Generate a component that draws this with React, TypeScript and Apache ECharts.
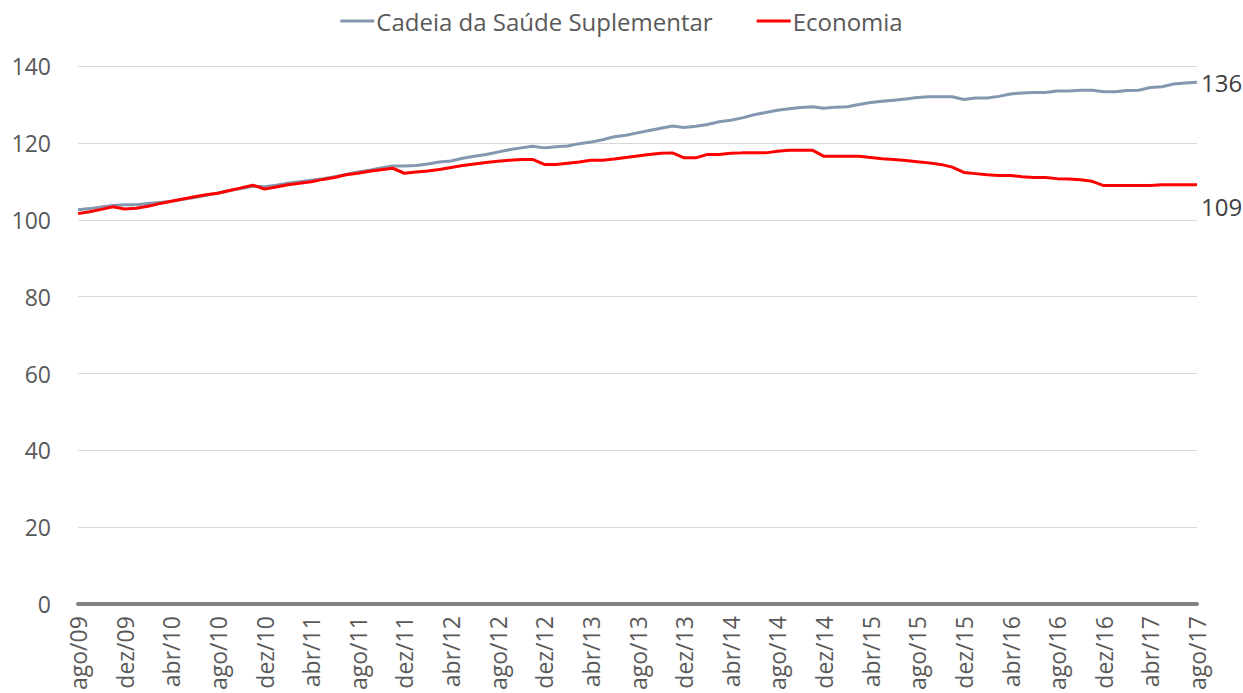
import React, { useEffect, useRef } from "react";
import * as echarts from "echarts";

const MONTHS = ["jan", "fev", "mar", "abr", "mai", "jun", "jul", "ago", "set", "out", "nov", "dez"];
// ago/09 .. ago/17 (97 months)
const categories: string[] = [];
for (let k = 0; k < 97; k++) {
  const m = (7 + k) % 12;
  const y = 9 + Math.floor((7 + k) / 12);
  categories.push(`${MONTHS[m]}/${String(y).padStart(2, "0")}`);
}

const seriesNames = ["Cadeia da Saúde Suplementar", "Economia"];

const cadeia = [
  102.6, 102.9, 103.3, 103.7, 103.9, 103.9, 104.2, 104.5, 104.8, 105.3, 105.8, 106.4,
  107.0, 107.6, 108.1, 108.7, 108.6, 109.0, 109.5, 109.9, 110.3, 110.7, 111.2, 111.8,
  112.4, 112.9, 113.5, 114.0, 114.0, 114.1, 114.5, 115.0, 115.3, 116.0, 116.5, 117.0,
  117.6, 118.2, 118.7, 119.1, 118.7, 119.0, 119.2, 119.8, 120.2, 120.8, 121.6, 122.0,
  122.6, 123.2, 123.8, 124.4, 124.0, 124.3, 124.8, 125.5, 125.9, 126.5, 127.3, 127.9,
  128.5, 128.9, 129.2, 129.4, 129.0, 129.3, 129.4, 130.0, 130.5, 130.8, 131.1, 131.4,
  131.8, 132.0, 132.0, 132.0, 131.3, 131.7, 131.7, 132.1, 132.7, 133.0, 133.1, 133.1,
  133.5, 133.5, 133.7, 133.7, 133.3, 133.3, 133.6, 133.7, 134.4, 134.6, 135.3, 135.6,
  135.8,
];

const economia = [
  101.6, 102.1, 102.7, 103.4, 102.8, 103.0, 103.5, 104.2, 104.8, 105.4, 106.0, 106.5,
  106.9, 107.6, 108.3, 109.0, 108.0, 108.5, 109.1, 109.5, 109.9, 110.5, 111.0, 111.7,
  112.1, 112.6, 113.0, 113.4, 112.1, 112.4, 112.7, 113.1, 113.6, 114.1, 114.5, 114.9,
  115.2, 115.5, 115.7, 115.7, 114.4, 114.4, 114.7, 115.0, 115.5, 115.5, 115.8, 116.2,
  116.6, 117.0, 117.3, 117.4, 116.1, 116.1, 117.0, 117.0, 117.3, 117.4, 117.4, 117.4,
  117.8, 118.1, 118.1, 118.1, 116.5, 116.5, 116.5, 116.5, 116.2, 115.9, 115.7, 115.4,
  115.1, 114.8, 114.4, 113.7, 112.3, 112.0, 111.7, 111.5, 111.5, 111.2, 111.0, 111.0,
  110.7, 110.6, 110.4, 110.0, 108.9, 108.9, 108.9, 108.9, 108.9, 109.1, 109.1, 109.1,
  109.1,
];

const FONT = "'Open Sans', sans-serif";

export default function App() {
  const ref = useRef<HTMLDivElement>(null);
  useEffect(() => {
    document.body.style.margin = "0";
    const chart = echarts.init(ref.current!, null, { renderer: "svg" });
    chart.setOption({
      animation: false,
      textStyle: { fontFamily: FONT },
      legend: {
        top: 4,
        left: "center",
        itemWidth: 34,
        itemHeight: 3,
        itemGap: 44,
        icon: "rect",
        textStyle: {
          fontSize: 24,
          color: "#595959",
          fontFamily: FONT,
          padding: [0, 0, 0, -3],
        },
        data: seriesNames,
      },
      grid: { left: 78, right: 46, top: 66, bottom: 88 },
      xAxis: {
        type: "category",
        data: categories,
        boundaryGap: false,
        axisLine: { lineStyle: { color: "#808080", width: 4 } },
        axisTick: { show: false },
        axisLabel: {
          interval: 3,
          rotate: 90,
          margin: 12,
          fontSize: 23,
          color: "#595959",
          fontFamily: FONT,
        },
        splitLine: { show: false },
      },
      yAxis: {
        type: "value",
        min: 0,
        max: 140,
        interval: 20,
        axisLine: { show: false },
        axisTick: { show: false },
        axisLabel: { fontSize: 23, color: "#595959", margin: 27, fontFamily: FONT },
        splitLine: { lineStyle: { color: "#d9d9d9", width: 1 } },
      },
      series: [
        {
          name: seriesNames[0],
          type: "line",
          data: cadeia,
          showSymbol: false,
          symbol: "none",
          lineStyle: { color: "#8497b0", width: 3 },
          itemStyle: { color: "#8497b0" },
          endLabel: {
            show: true,
            formatter: (p: any) => String(Math.round(p.value)),
            fontSize: 24,
            color: "#404040",
            distance: 4,
            fontFamily: FONT,
          },
          z: 2,
        },
        {
          name: seriesNames[1],
          type: "line",
          data: economia,
          showSymbol: false,
          symbol: "none",
          lineStyle: { color: "#ff0000", width: 3 },
          itemStyle: { color: "#ff0000" },
          endLabel: {
            show: true,
            formatter: (p: any) => String(Math.round(p.value)),
            fontSize: 24,
            color: "#404040",
            distance: 4,
            offset: [0, 22],
            fontFamily: FONT,
          },
          z: 3,
        },
      ],
    });
    return () => chart.dispose();
  }, []);
  return <div ref={ref} style={{ width: 1243, height: 693 }} />;
}
